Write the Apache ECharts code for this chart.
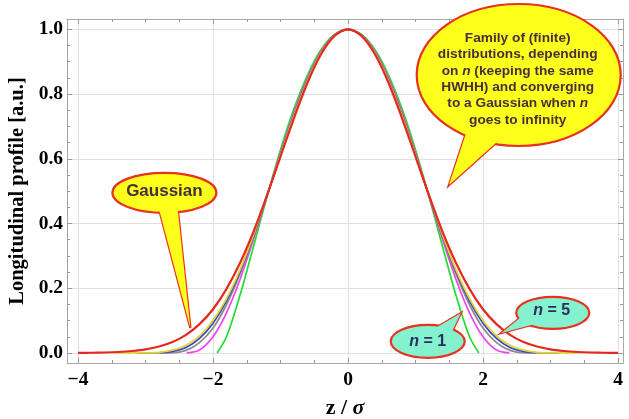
<!DOCTYPE html>
<html>
<head>
<meta charset="utf-8">
<script src="https://cdn.jsdelivr.net/npm/echarts@6/dist/echarts.min.js"></script>
<style>
  html, body { margin: 0; padding: 0; background: #ffffff; }
  #chart { width: 629px; height: 419px; }
</style>
</head>
<body>
<div id="chart"></div>
<script>
// Half profiles (z >= 0); each profile is symmetric about z = 0.
const zHalf = [0, 0.2, 0.4, 0.6, 0.8, 1.0, 1.2, 1.4, 1.6, 1.8, 2.0, 2.2, 2.4, 2.6, 2.8, 3.0, 3.2, 3.4, 3.6, 3.8, 4.0];

const gaussian = [1, 0.980, 0.923, 0.835, 0.726, 0.607, 0.487, 0.375, 0.278, 0.198, 0.135, 0.089, 0.056, 0.034, 0.020, 0.011, 0.006, 0.003, 0.0015, 0.0007, 0.0003];
const profileN1 = [1, 0.984, 0.937, 0.859, 0.755, 0.628, 0.483, 0.329, 0.178, 0.050];
const profileN2 = [1, 0.983, 0.932, 0.850, 0.744, 0.619, 0.485, 0.351, 0.227, 0.124, 0.050, 0.009];
const profileN3 = [1, 0.982, 0.929, 0.846, 0.738, 0.615, 0.485, 0.358, 0.244, 0.149, 0.077, 0.032, 0.008, 0.0007];
const profileN4 = [1, 0.982, 0.928, 0.844, 0.736, 0.613, 0.486, 0.362, 0.252, 0.161, 0.092, 0.045, 0.017, 0.005, 0.0006];
const profileN5 = [1, 0.981, 0.927, 0.842, 0.734, 0.612, 0.486, 0.365, 0.257, 0.168, 0.100, 0.053, 0.024, 0.009, 0.002, 0.0003];

// Half-length of the finite support of each profile (value is zero there).
const supportEnd = [1.94, 2.39, 2.78, 3.12, 3.42];

const xMajorTicks = [-4, -2, 0, 2, 4];
const xMinorTicks = [-3.5, -3, -2.5, -1.5, -1, -0.5, 0.5, 1, 1.5, 2.5, 3, 3.5];
const yMajorTicks = [0, 0.2, 0.4, 0.6, 0.8, 1.0];
const yMinorTicks = [0.05, 0.1, 0.15, 0.25, 0.3, 0.35, 0.45, 0.5, 0.55, 0.65, 0.7, 0.75, 0.85, 0.9, 0.95];

// Plot-range (frame) extents
const X_MIN = -4.163, X_MAX = 4.074;
const Y_MIN = -0.031, Y_MAX = 1.032;

function fullProfile(vals, end) {
  const pts = [];
  if (end != null) pts.push([-end, 0]);
  for (let i = vals.length - 1; i > 0; i--) pts.push([-zHalf[i], vals[i]]);
  for (let i = 0; i < vals.length; i++) pts.push([zHalf[i], vals[i]]);
  if (end != null) pts.push([end, 0]);
  return pts;
}

const SERIF = '"Liberation Serif", "Times New Roman", serif';
const SANS = '"Liberation Sans", Arial, sans-serif';
const FRAME = '#a9a9a9';
const TICK = '#9a9a9a';
const GRIDLINE = '#e0e0e0';

function fmt(v) {
  const s = Math.abs(v) < 1e-9 ? '0' : String(Math.round(v * 10) / 10);
  return s.replace('-', '\u2212');
}

function xAxisDef(pos, grid, ticks, len, opts) {
  return Object.assign({
    type: 'value', gridIndex: grid, position: pos, min: X_MIN, max: X_MAX,
    axisLine: { show: false, onZero: false },
    axisTick: { show: true, inside: true, length: len, customValues: ticks, lineStyle: { color: TICK, width: 1 } },
    axisLabel: { show: false },
    splitLine: { show: false }
  }, opts || {});
}
function yAxisDef(pos, grid, ticks, len, opts) {
  return Object.assign({
    type: 'value', gridIndex: grid, position: pos, min: Y_MIN, max: Y_MAX,
    axisLine: { show: false, onZero: false },
    axisTick: { show: true, inside: true, length: len, customValues: ticks, lineStyle: { color: TICK, width: 1 } },
    axisLabel: { show: false },
    splitLine: { show: false }
  }, opts || {});
}

const frameLine = { show: true, onZero: false, lineStyle: { color: FRAME, width: 1 } };
const gridBox = { left: 67, right: 6, top: 19, bottom: 56, containLabel: false, outerBoundsMode: 'none' };

const lineSeries = (name, data, color, width) => ({
  name, type: 'line', xAxisIndex: 0, yAxisIndex: 0, data,
  showSymbol: false, smooth: 0.3, clip: true,
  lineStyle: { color, width }, emphasis: { disabled: true }, z: 3
});

const option = {
  animation: false,
  backgroundColor: '#ffffff',
  grid: [gridBox, gridBox],
  xAxis: [
    xAxisDef('bottom', 0, xMajorTicks, 5, {
      axisLine: frameLine,
      axisLabel: {
        show: true, customValues: xMajorTicks, formatter: fmt, margin: 7,
        fontFamily: SERIF, fontWeight: 'bold', fontSize: 19.5, color: '#000'
      },
      splitLine: { show: true, lineStyle: { color: GRIDLINE, width: 1 } },
      name: 'z / {i|\u03c3}', nameLocation: 'middle', nameGap: 34,
      nameTextStyle: {
        fontFamily: SERIF, fontWeight: 'bold', fontSize: 22, color: '#000',
        rich: { i: { fontFamily: SERIF, fontWeight: 'bold', fontStyle: 'italic', fontSize: 22, color: '#000' } }
      }
    }),
    xAxisDef('top', 0, xMajorTicks, 5, { axisLine: frameLine }),
    xAxisDef('bottom', 1, xMinorTicks, 3),
    xAxisDef('top', 1, xMinorTicks, 3)
  ],
  yAxis: [
    yAxisDef('left', 0, yMajorTicks, 5, {
      axisLine: frameLine,
      axisLabel: {
        show: true, customValues: yMajorTicks, formatter: (v) => v.toFixed(1), margin: 4,
        fontFamily: SERIF, fontWeight: 'bold', fontSize: 19.5, color: '#000'
      },
      splitLine: { show: true, lineStyle: { color: GRIDLINE, width: 1 } },
      name: 'Longitudinal profile [a.u.]', nameLocation: 'middle', nameGap: 37,
      nameTextStyle: { fontFamily: SERIF, fontWeight: 'bold', fontSize: 20.5, color: '#000' }
    }),
    yAxisDef('right', 0, yMajorTicks, 5, { axisLine: frameLine }),
    yAxisDef('left', 1, yMinorTicks, 3),
    yAxisDef('right', 1, yMinorTicks, 3)
  ],
  series: [
    lineSeries('n = 1', fullProfile(profileN1, supportEnd[0]), '#22dd33', 1.7),
    lineSeries('n = 2', fullProfile(profileN2, supportEnd[1]), '#ee44ee', 1.7),
    lineSeries('n = 3', fullProfile(profileN3, supportEnd[2]), '#8a8a8a', 1.7),
    lineSeries('n = 4', fullProfile(profileN4, supportEnd[3]), '#3340c8', 1.7),
    lineSeries('n = 5', fullProfile(profileN5, supportEnd[4]), '#e2d430', 1.7),
    lineSeries('Gaussian', fullProfile(gaussian, null), '#e6291f', 2.2)
  ]
};

const chart = echarts.init(document.getElementById('chart'), null, { renderer: 'canvas' });
chart.setOption(option);

// Speech-bubble callouts: centre and tip in data units, shape offsets in px.
const YELLOW = '#ffff1c';
const AQUA = '#84f2cf';
const RED = '#e8321f';
const callouts = [
  {
    center: [-2.72, 0.495], rx: 52, ry: 20, tip: [-2.335, 0.077],
    base: [[-6, 14], [13, 14]], fill: YELLOW,
    size: 17, color: '#43303a',
    lines: [{ text: 'Gaussian', dx: 0, dy: -1 }]
  },
  {
    center: [2.529, 0.859], rx: 102, ry: 71, tip: [1.496, 0.519],
    base: [[-50, 50], [-14, 60]], fill: YELLOW,
    size: 13.7, color: '#46303a',
    lines: [
      { text: 'Family of (finite)', dx: -1, dy: -37 },
      { text: 'distributions, depending', dx: -1, dy: -20.6 },
      { text: 'on {i|n} (keeping the same', dx: -1, dy: -4.2 },
      { text: 'HWHH) and converging', dx: -1, dy: 12.2 },
      { text: 'to a Gaussian when {i|n}', dx: -1, dy: 28.6 },
      { text: 'goes to infinity', dx: -1, dy: 45 }
    ]
  },
  {
    center: [1.181, 0.036], rx: 37, ry: 16.5, tip: [1.670, 0.123],
    base: [[4, -11], [23, -7]], fill: AQUA,
    size: 16, color: '#2c2f5c',
    lines: [{ text: '{i|n} = 1', dx: 0, dy: 0 }]
  },
  {
    center: [3.033, 0.124], rx: 36.5, ry: 16, tip: [2.273, 0.062],
    base: [[-29, 2], [-17, 11]], fill: AQUA,
    size: 16, color: '#2c2f5c',
    lines: [{ text: '{i|n} = 5', dx: -1, dy: -2 }]
  }
];

function toPx(p) {
  return chart.convertToPixel({ xAxisIndex: 0, yAxisIndex: 0 }, p);
}

const elements = [];
callouts.forEach((c, k) => {
  const [cx, cy] = toPx(c.center);
  const tip = toPx(c.tip);
  const tail = [[cx + c.base[0][0], cy + c.base[0][1]], tip, [cx + c.base[1][0], cy + c.base[1][1]]];
  const zb = 100 + k * 10;
  elements.push({
    type: 'polygon', shape: { points: tail }, z: zb,
    style: { fill: c.fill, stroke: RED, lineWidth: 2.4, lineJoin: 'miter' }
  });
  elements.push({
    type: 'ellipse', shape: { cx, cy, rx: c.rx, ry: c.ry }, z: zb + 1,
    style: { fill: c.fill, stroke: RED, lineWidth: 2.2 }
  });
  elements.push({
    type: 'polygon', shape: { points: tail }, z: zb + 2,
    style: { fill: c.fill, stroke: null }
  });
  c.lines.forEach((ln) => {
    elements.push({
      type: 'text', x: cx + ln.dx, y: cy + ln.dy, z: zb + 3,
      style: {
        text: ln.text, fill: c.color, align: 'center', verticalAlign: 'middle',
        fontFamily: SANS, fontWeight: 'bold', fontSize: c.size,
        rich: {
          i: { fontFamily: SANS, fontWeight: 'bold', fontStyle: 'italic', fontSize: c.size, fill: c.color }
        }
      }
    });
  });
});

chart.setOption({ graphic: elements });
</script>
</body>
</html>
